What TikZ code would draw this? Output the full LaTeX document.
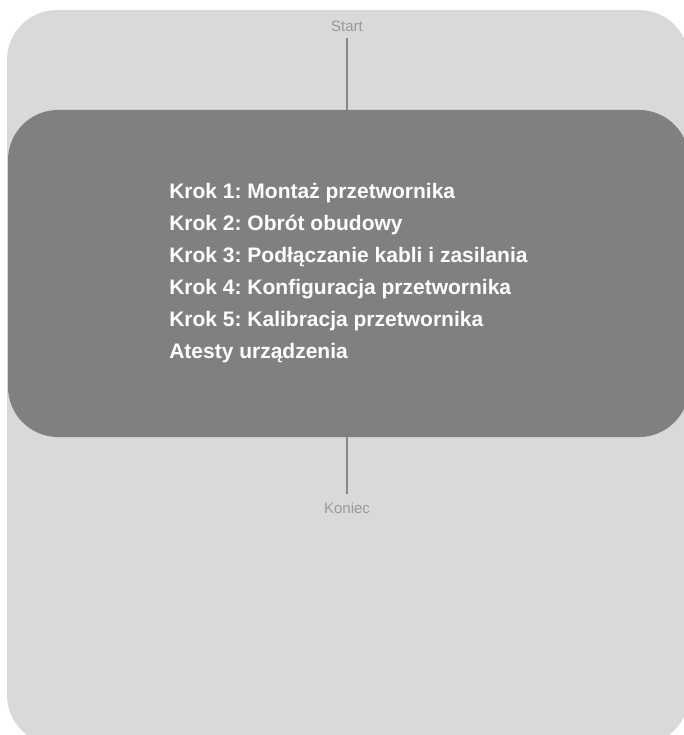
\documentclass[tikz,border=0pt]{standalone}
\usepackage{fontspec}
\setmainfont{Liberation Sans}
\usepackage{xcolor}
\usepackage{tikz}
\definecolor{tlo}{HTML}{D9D9D9}
\definecolor{blok}{HTML}{808080}
\definecolor{linia}{HTML}{888888}
\definecolor{opis}{HTML}{999999}
\newcommand\kr[1]{\textbf{#1}}
\frenchspacing

\begin{document}
\begin{tikzpicture}[x=1pt,y=-1pt,
    koniecbox/.style={text=opis,font=\fontsize{15}{17}\selectfont,inner sep=3pt},
    krokbox/.style={fill=blok,text=white,rounded corners=50pt,align=left,
      minimum width=681pt,minimum height=327pt,inner sep=0pt,
      font=\fontsize{21}{32}\selectfont},
    polacz/.style={draw=linia,line width=2.5pt}]
      \clip (0, 0) rectangle (684, 735);
      \fill[tlo, rounded corners=50pt] (7, 10) rectangle (689, 745);

      \coordinate (S) at (347, 26);
      \coordinate (B) at (348.5, 273.5);
      \coordinate (K) at (347, 508);

      \node[koniecbox, inner sep=6pt] (start) at (S) {Start};
      \node[krokbox] (kroki) at (B) {\kr{Krok 1: Montaż przetwornika}\\
        \kr{Krok 2: Obrót obudowy}\\
        \kr{Krok 3: Podłączanie kabli i zasilania}\\
        \kr{Krok 4: Konfiguracja przetwornika}\\
        \kr{Krok 5: Kalibracja przetwornika}\\
        \kr{Atesty urządzenia}};
      \node[koniecbox, inner sep=8pt] (koniec) at (K) {Koniec};

      \draw[polacz] (start) -- (start |- kroki.north);
      \draw[polacz] (koniec |- kroki.south) -- (koniec);
    \end{tikzpicture}
\end{document}
